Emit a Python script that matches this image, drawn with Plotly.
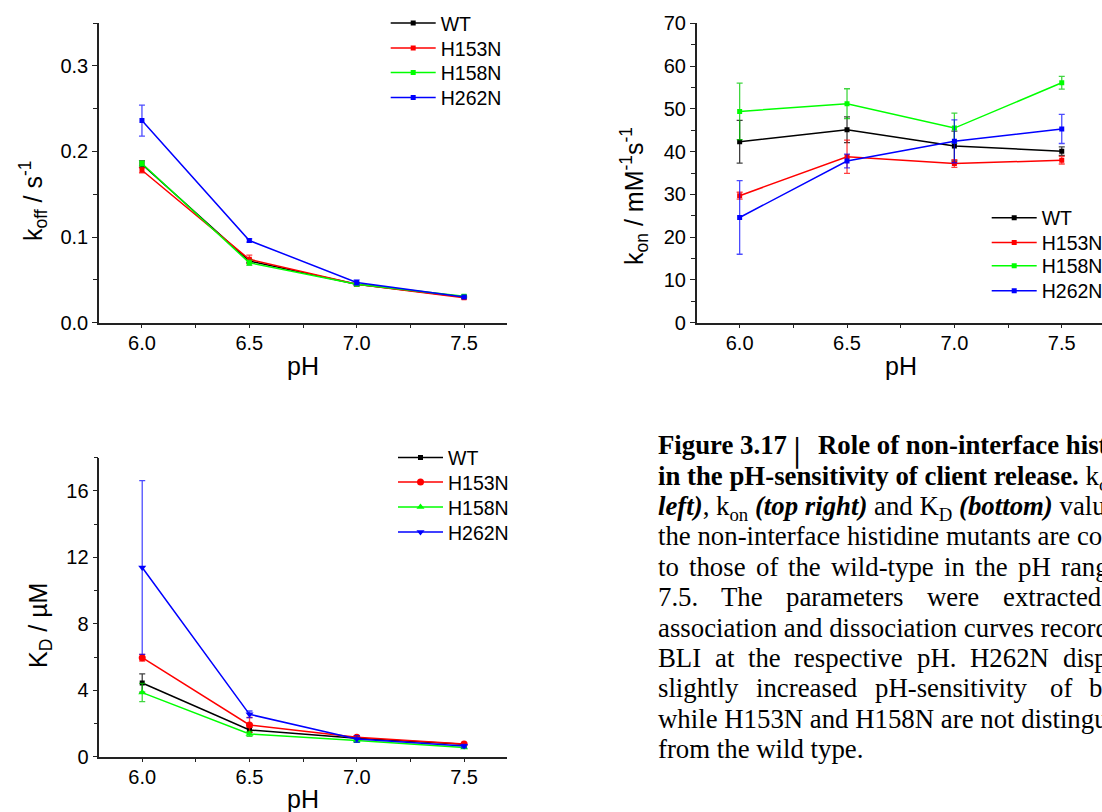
import plotly.graph_objects as go

W, H = 1102, 812

# ---------------- data ----------------
ph = [6.0, 6.5, 7.0, 7.5]
names = ["WT", "H153N", "H158N", "H262N"]
colors = ["#000000", "#ff0000", "#00ff00", "#0000ff"]
err_colors = ["rgba(0,0,0,0.75)", "rgba(255,0,0,0.75)", "rgba(0,200,0,0.75)", "rgba(0,0,255,0.7)"]

# k_off / s^-1
koff_wt = [0.185, 0.072, 0.045, 0.030]
koff_wt_err = [0.004, 0.002, 0.002, 0.001]
koff_h153n = [0.178, 0.074, 0.045, 0.029]
koff_h153n_err = [0.003, 0.005, 0.001, 0.001]
koff_h158n = [0.186, 0.070, 0.045, 0.031]
koff_h158n_err = [0.003, 0.003, 0.001, 0.001]
koff_h262n = [0.236, 0.096, 0.047, 0.030]
koff_h262n_err = [0.018, 0.002, 0.003, 0.001]

# k_on / mM^-1 s^-1
kon_wt = [42.3, 45.1, 41.3, 40.1]
kon_wt_err = [5.0, 3.0, 3.5, 1.0]
kon_h153n = [29.7, 38.8, 37.2, 38.0]
kon_h153n_err = [0.8, 3.9, 0.9, 0.9]
kon_h158n = [49.4, 51.2, 45.5, 56.1]
kon_h158n_err = [6.6, 3.5, 3.5, 1.5]
kon_h262n = [24.6, 37.8, 42.4, 45.3]
kon_h262n_err = [8.6, 1.6, 5.0, 3.4]

# K_D / uM
kd_wt = [4.44, 1.61, 1.11, 0.75]
kd_wt_err = [0.55, 0.15, 0.10, 0.05]
kd_h153n = [5.96, 1.91, 1.17, 0.77]
kd_h153n_err = [0.20, 0.45, 0.10, 0.05]
kd_h158n = [3.86, 1.37, 0.97, 0.55]
kd_h158n_err = [0.55, 0.15, 0.10, 0.05]
kd_h262n = [11.39, 2.55, 1.07, 0.64]
kd_h262n_err = [5.23, 0.20, 0.20, 0.10]

koff_vals = [koff_wt, koff_h153n, koff_h158n, koff_h262n]
koff_errs = [koff_wt_err, koff_h153n_err, koff_h158n_err, koff_h262n_err]
kon_vals = [kon_wt, kon_h153n, kon_h158n, kon_h262n]
kon_errs = [kon_wt_err, kon_h153n_err, kon_h158n_err, kon_h262n_err]
kd_vals = [kd_wt, kd_h153n, kd_h158n, kd_h262n]
kd_errs = [kd_wt_err, kd_h153n_err, kd_h158n_err, kd_h262n_err]

SANS = "Arial, 'Liberation Sans', sans-serif"
SERIF = "'Liberation Serif', 'Times New Roman', serif"


def fx(px):
    return px / W


def fy(py):
    return 1 - py / H


fig = go.Figure()

panels = [
    ("x", "y", koff_vals, koff_errs, ["square"] * 4),
    ("x2", "y2", kon_vals, kon_errs, ["square"] * 4),
    ("x3", "y3", kd_vals, kd_errs, ["square", "circle", "triangle-up", "triangle-down"]),
]

# legend anchor points: (line start x, item centre y) per panel
legend_pos = [
    (390.7, [23.3, 48.3, 72.7, 97.7]),
    (991.7, [218.0, 242.7, 266.0, 291.0]),
    (398.0, [457.7, 482.3, 507.3, 532.3]),
]

legends = {}
k = 0
for p, (xa, ya, vals, errs, symbols) in enumerate(panels):
    lx, lys = legend_pos[p]
    for i in range(4):
        k += 1
        lid = "legend" if k == 1 else f"legend{k}"
        fig.add_trace(go.Scatter(
            x=ph, y=vals[i], xaxis=xa, yaxis=ya, name=names[i],
            mode="lines+markers",
            line=dict(color=colors[i], width=1.5),
            marker=dict(symbol=symbols[i], size=5 if symbols[i] == "square" else 7,
                        color=colors[i]),
            error_y=dict(type="data", array=errs[i], color=err_colors[i],
                         thickness=1.3, width=3),
            legend=lid,
        ))
        legends[lid] = dict(
            x=fx(lx - 5), y=fy(lys[i]), xanchor="left", yanchor="middle",
            bgcolor="rgba(0,0,0,0)", borderwidth=0, itemwidth=45,
            font=dict(family=SANS, size=19.5, color="black"),
            itemclick=False, itemdoubleclick=False,
        )

axis_common = dict(
    showline=True, linecolor="#222", linewidth=1.5, mirror=False,
    showgrid=False, zeroline=False,
    tickfont=dict(family=SANS, size=20, color="black"),
    tickcolor="#222", tickwidth=1.2,
)

xaxis_common = dict(
    axis_common, tickvals=ph, tickformat=".1f", ticks="outside", ticklen=2,
    tickcolor="rgba(0,0,0,0)",
    minor=dict(ticks="outside", ticklen=4, dtick=0.25, tick0=6.0,
               tickcolor="#222", tickwidth=1.2),
)

x_scale = 408 / 1.9  # px per pH unit

fig.update_layout(
    width=W, height=H, margin=dict(l=0, r=0, t=0, b=0, autoexpand=False),
    paper_bgcolor="white", plot_bgcolor="white",
    showlegend=True,
    xaxis=dict(xaxis_common, domain=[fx(99), fx(507)], range=[5.8, 7.7], anchor="y"),
    yaxis=dict(axis_common, domain=[fy(322.7), fy(23)], range=[0, 0.35], anchor="x",
               tickvals=[0, 0.1, 0.2, 0.3], tickformat=".1f", ticks="outside", ticklen=5,
               minor=dict(ticks="outside", ticklen=4, dtick=0.05, tick0=0,
                          tickcolor="#222", tickwidth=1.2)),
    xaxis2=dict(xaxis_common, domain=[fx(696.7), 1.0],
                range=[5.8, 5.8 + (W - 696.7) / x_scale], anchor="y2"),
    yaxis2=dict(axis_common, domain=[fy(322.7), fy(23.3)], range=[0, 70], anchor="x2",
                dtick=10, tick0=0, ticks="outside", ticklen=5,
                minor=dict(ticks="outside", ticklen=4, dtick=5, tick0=0,
                           tickcolor="#222", tickwidth=1.2)),
    xaxis3=dict(xaxis_common, domain=[fx(99.3), fx(507)], range=[5.8, 7.7], anchor="y3"),
    yaxis3=dict(axis_common, domain=[fy(756.7), fy(457.7)], range=[0, 18], anchor="x3",
                tickvals=[0, 4, 8, 12, 16], ticks="outside", ticklen=5,
                minor=dict(ticks="outside", ticklen=4, dtick=2, tick0=0,
                           tickcolor="#222", tickwidth=1.2)),
    **legends,
)

# ---------------- axis titles ----------------
title_font = dict(family=SANS, size=25, color="black")
axis_titles = [
    (33, 201, "k<sub>off</sub> / s<sup>-1</sup>", -90),
    (634, 196, "k<sub>on</sub> / mM<sup>-1</sup>s<sup>-1</sup>", -90),
    (40, 626, "K<sub>D</sub> / µM", -90),
    (303, 366, "pH", 0),
    (900.7, 366, "pH", 0),
    (303, 799, "pH", 0),
]
for x, y, txt, ang in axis_titles:
    fig.add_annotation(x=fx(x), y=fy(y), xref="paper", yref="paper", text=txt,
                       textangle=ang, showarrow=False, xanchor="center",
                       yanchor="middle", font=title_font)

# ---------------- caption ----------------
CAP = 26.8
LINE0 = 454.0
STEP = 30.4
cap_font = dict(family=SERIF, size=CAP, color="black")

# each line: list of (left x in px, text); justified lines are split into words
caption = [
    [(657, "<b>Figure 3.17</b>"), (816.7, "<b>Role of non-interface histidines</b>")],
    [(657, "<b>in the pH-sensitivity of client release.</b> k<sub>off</sub> <b><i>(top</i></b>")],
    [(657, "<b><i>left)</i></b>, k<sub>on</sub> <b><i>(top right)</i></b> and "
           "K<sub>D</sub> <b><i>(bottom)</i></b> values of")],
    [(657, "the non-interface histidine mutants are compared")],
    [(657, "to"), (687.9, "those"), (754.8, "of"), (787.1, "the"), (830.0, "wild-type"),
     (943.4, "in"), (974.2, "the"), (1017.1, "pH"), (1060, "range 6.0-")],
    [(657, "7.5."), (720.3, "The"), (785.1, "parameters"), (926.3, "were"),
     (1001.7, "extracted from")],
    [(657, "association and dissociation curves recorded by")],
    [(657, "BLI"), (713.9, "at"), (746.8, "the"), (793.2, "respective"), (916.1, "pH."),
     (969.2, "H262N"), (1061.7, "displays a")],
    [(657, "slightly"), (754.9, "increased"), (873.7, "pH-sensitivity"), (1048.9, "of"),
     (1088.3, "binding,")],
    [(657, "while H153N and H158N are not distinguishable")],
    [(657, "from the wild type.")],
]

for n, segs in enumerate(caption):
    base = LINE0 + n * STEP
    for x, txt in segs:
        fig.add_annotation(x=fx(x), y=fy(base - 0.891 * CAP - 1), xref="paper", yref="paper",
                           text=txt, showarrow=False, xanchor="left", yanchor="top",
                           font=cap_font, borderpad=0)

# separator bar after the figure number
fig.add_annotation(x=fx(796.7), y=fy(452), xref="paper", yref="paper", text="│",
                   showarrow=False, xanchor="center", yanchor="middle",
                   font=dict(family="DejaVu Sans", size=CAP, color="black"))

fig.write_html("out.html")
